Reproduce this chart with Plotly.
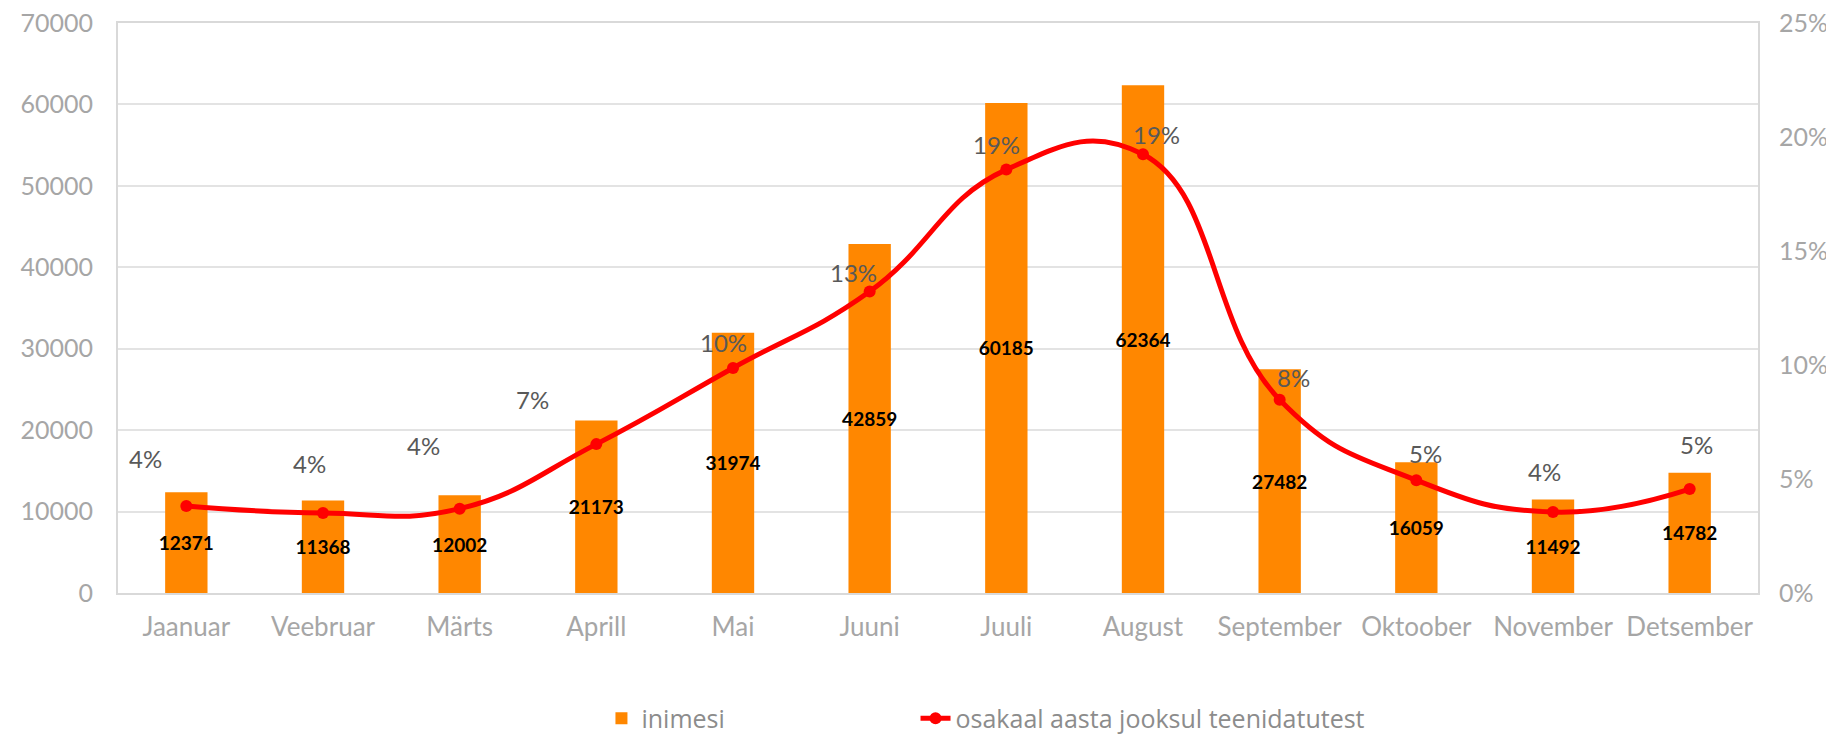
import plotly.graph_objects as go

months = ["Jaanuar", "Veebruar", "Märts", "Aprill", "Mai", "Juuni", "Juuli",
          "August", "September", "Oktoober", "November", "Detsember"]
inimesi = [12371, 11368, 12002, 21173, 31974, 42859, 60185, 62364, 27482, 16059, 11492, 14782]
osakaal = [0.0382, 0.0351, 0.0370, 0.0653, 0.0987, 0.1322, 0.1857, 0.1924, 0.0848, 0.0495, 0.0355, 0.0456]
osakaal_labels = ["4%", "4%", "4%", "7%", "10%", "13%", "19%", "19%", "8%", "5%", "4%", "5%"]

y_ticks = [0, 10000, 20000, 30000, 40000, 50000, 60000, 70000]
y_ticktext = ["0", "10000", "20000", "30000", "40000", "50000", "60000", "70000"]
y2_ticks = [0, 0.05, 0.10, 0.15, 0.20, 0.25]
y2_ticktext = ["0%", "5%", "10%", "15%", "20%", "25%"]

# label offsets (px) for percentage labels relative to their points
label_dx = [-41, -14, -36, -64, -10, -16, -10, 13, 14, 9, -9, 7]
label_dy = [47, 49, 63, 45, 25, 19, 25, 20, 22, 27, 41, 45]

FONT = "Lato, 'Open Sans', sans-serif"
GRAY = "#a6a6a6"
DARK = "#595959"
LEGEND_FONT = dict(family="'Liberation Sans Narrow', 'Open Sans', sans-serif", size=25, color="#8c8c8c")

fig = go.Figure()
fig.add_trace(go.Bar(
    x=months, y=inimesi, name="inimesi",
    marker=dict(color="#ff8700", line=dict(width=0)),
    width=0.31,
    text=[str(v) for v in inimesi], textposition="inside",
    insidetextanchor="middle", textangle=0, constraintext="none",
    textfont=dict(family=FONT, size=19, color="black", weight="bold"),
    hoverinfo="skip", legend="legend",
))
fig.add_trace(go.Scatter(
    x=months, y=osakaal, name="osakaal aasta jooksul teenidatutest",
    yaxis="y2", mode="lines+markers",
    line=dict(color="#ff0000", width=5, shape="spline", smoothing=1.3),
    marker=dict(color="#ff0000", size=12),
    hoverinfo="skip", legend="legend2",
))

for m, v, t, dx, dy in zip(months, osakaal, osakaal_labels, label_dx, label_dy):
    fig.add_annotation(x=m, y=v, xref="x", yref="y2", text=t, showarrow=False,
                       xshift=dx, yshift=dy,
                       font=dict(family=FONT, size=24, color=DARK))

fig.update_layout(
    width=1826, height=728,
    margin=dict(l=110, r=76, t=15, b=143, autoexpand=False),
    plot_bgcolor="white", paper_bgcolor="white",
    showlegend=True,
    legend=dict(xref="container", yref="container", x=0.325, xanchor="left", y=0.024, yanchor="middle",
                font=LEGEND_FONT, bgcolor="rgba(0,0,0,0)"),
    legend2=dict(xref="container", yref="container", x=0.497, xanchor="left", y=0.024, yanchor="middle",
                 font=LEGEND_FONT, bgcolor="rgba(0,0,0,0)"),
    bargap=0.69,
    xaxis=dict(range=[-0.5, 11.5], autorange=False, showgrid=False, showline=True, linecolor="#d9d9d9",
               linewidth=2, mirror=True, automargin=False, ticklabeloverflow="allow",
               tickfont=dict(family=FONT, size=26, color=GRAY), ticks="", ticklabelstandoff=10),
    yaxis=dict(range=[0, 70000], tickvals=y_ticks, ticktext=y_ticktext, showgrid=True, gridcolor="#e3e3e3",
               gridwidth=1.5, automargin=False, ticklabeloverflow="allow",
               showline=True, linecolor="#d9d9d9", linewidth=2, mirror=True, zeroline=False,
               tickfont=dict(family=FONT, size=25, color=GRAY), ticks="", ticklabelstandoff=18),
    yaxis2=dict(range=[0, 0.25], tickvals=y2_ticks, ticktext=y2_ticktext, overlaying="y", side="right",
                showgrid=False, zeroline=False, showline=False, automargin=False, ticklabeloverflow="allow",
                tickfont=dict(family=FONT, size=25, color=GRAY), ticks="", ticklabelstandoff=20),
)

fig.write_html("out.html")
